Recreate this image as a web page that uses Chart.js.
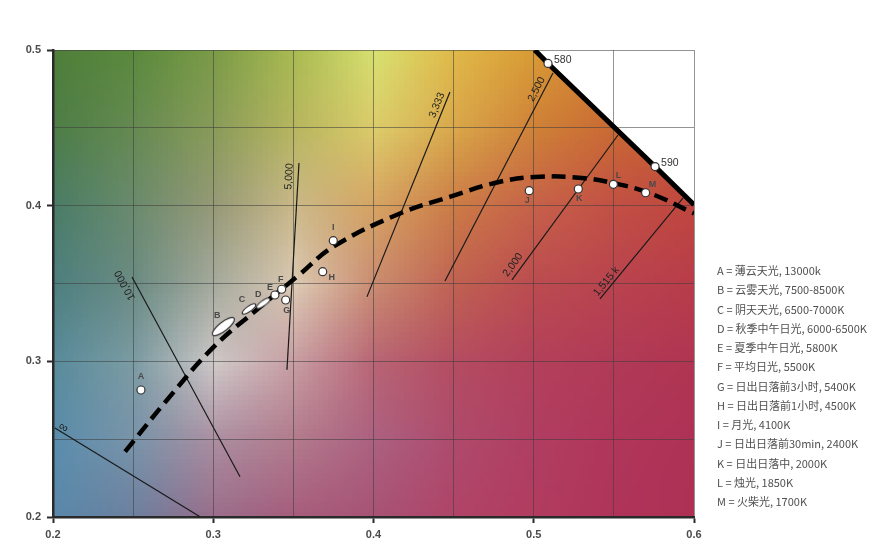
<!DOCTYPE html>
<html>
<head>
<meta charset="utf-8">
<script src="https://cdn.jsdelivr.net/npm/chart.js@4.4.0/dist/chart.umd.min.js"></script>
<style>
  html, body { margin: 0; padding: 0; background: #fff; }
  canvas { display: block; }
</style>
</head>
<body>
<canvas id="cie-chart" width="882" height="544"></canvas>
<script>
// light sources (x, y chromaticity)
const sourceNames = ['A', 'B', 'C', 'D', 'E', 'F', 'G', 'H', 'I', 'J', 'K', 'L', 'M'];
const sourceX = [0.2549, 0.3063, 0.3223, 0.3312, 0.3385, 0.3427, 0.3452, 0.3683, 0.3749, 0.4972, 0.5278, 0.5497, 0.5698];
const sourceY = [0.2816, 0.3223, 0.3337, 0.3373, 0.3426, 0.3463, 0.3394, 0.3576, 0.3775, 0.4096, 0.4107, 0.4137, 0.4083];
const sourceDesc = [
    '薄云天光, 13000k',
    '云雾天光, 7500-8500K',
    '阴天天光, 6500-7000K',
    '秋季中午日光, 6000-6500K',
    '夏季中午日光, 5800K',
    '平均日光, 5500K',
    '日出日落前3小时, 5400K',
    '日出日落前1小时, 4500K',
    '月光, 4100K',
    '日出日落前30min, 2400K',
    '日出日落中, 2000K',
    '烛光, 1850K',
    '火柴光, 1700K'
];

// planckian locus (dashed)
const planckX = [0.245, 0.271, 0.300, 0.327, 0.353, 0.375, 0.4165, 0.448, 0.479, 0.504, 0.530, 0.550, 0.5725, 0.600];
const planckY = [0.242, 0.275, 0.309, 0.333, 0.355, 0.3737, 0.395, 0.4058, 0.4154, 0.4186, 0.4178, 0.4144, 0.408, 0.395];

// spectral locus edge and wavelength marks
const locusX = [0.5006, 0.5089, 0.5757, 0.6];
const locusY = [0.5, 0.4914, 0.4251, 0.4006];
const waveLabels = ['580', '590'];
const waveX = [0.5089, 0.5757];
const waveY = [0.4914, 0.4251];

// isotherms: upper end (x1, y1) and lower end (x2, y2)
const isoLabels = ['∞', '10,000', '5,000', '3,333', '2,500', '2,000', '1,515 k'];
const isoX1 = [0.2012, 0.2493, 0.3535, 0.4477, 0.5120, 0.5526, 0.5931];
const isoY1 = [0.2572, 0.3542, 0.4274, 0.4730, 0.4852, 0.4454, 0.4049];
const isoX2 = [0.2920, 0.3167, 0.3460, 0.3959, 0.4446, 0.4864, 0.5413];
const isoY2 = [0.2000, 0.2258, 0.2945, 0.3414, 0.3516, 0.3523, 0.3401];

// label placement along / beside each isotherm (px from the upper end)
const isoLabelAlong = [-7, -4, -14, -17, -22, -167, -113];
const isoLabelSide = [-5, 10, 9, 7, 7, 8, 6];

// letter label offsets (px) next to each marker
const letterOffset = {
    A: [0, -13], B: [-6, -11], C: [-7, -9], D: [-5, -9], E: [-5, -8], F: [-1, -10],
    G: [1, 11], H: [9, 6], I: [0, -13], J: [-2, 10], K: [1, 10], L: [5, -9], M: [7, -8]
};

// colour field sampled on the 0.05 grid, top row y=0.5 .. bottom row y=0.2, x=0.2 .. 0.6
const bgColors = [
    ['#4f7f3a', '#5b8a3e', '#7c9c48', '#aabb52', '#d8e070', '#e0b848', '#d89a35', '#d27e32', '#cc6a32'],
    ['#4e7e48', '#668a52', '#8a9c5a', '#b8b660', '#dccb6a', '#d9a64a', '#cf8038', '#c96834', '#c65a34'],
    ['#4b7d68', '#6b8b6e', '#979a78', '#cbb98a', '#d6a262', '#cb7a46', '#c6604a', '#c24f45', '#bf463f'],
    ['#4f8080', '#6c8c84', '#a7ab9e', '#dcc9b4', '#c98a70', '#c06052', '#bb4b50', '#b9434f', '#b83c4a'],
    ['#5a8c9c', '#7d9ca4', '#cfc8c8', '#c79ca2', '#b86474', '#b44c62', '#b3405b', '#b13a57', '#b03552'],
    ['#5b8dac', '#7a94aa', '#ab8da0', '#b27a8c', '#ac6080', '#af4a6c', '#b03e62', '#b0365a', '#ae3256'],
    ['#5a88aa', '#6d7f9e', '#9a6c8a', '#a65c7c', '#a85274', '#b04468', '#b23c60', '#b0345a', '#ae3055']
];

function ellipseImg(rx, ry, deg) {
    const c = document.createElement('canvas');
    c.width = c.height = Math.ceil(rx * 2 + 6);
    const g = c.getContext('2d');
    g.beginPath();
    g.ellipse(c.width / 2, c.height / 2, rx, ry, deg * Math.PI / 180, 0, Math.PI * 2);
    g.fillStyle = '#fff';
    g.fill();
    g.lineWidth = 1.2;
    g.strokeStyle = '#333';
    g.stroke();
    return c;
}
const ellipses = { B: ellipseImg(13.5, 4.5, -38), C: ellipseImg(8, 2.6, -35), D: ellipseImg(8, 2.6, -35) };

const pts = (xs, ys) => xs.map((v, i) => ({ x: v, y: ys[i] }));
const isTenth = v => Math.abs(v * 10 - Math.round(v * 10)) < 1e-6;

const backdrop = {
    id: 'backdrop',
    beforeDraw(chart) {
        const { ctx, chartArea: a, scales: { x, y } } = chart;
        const rows = bgColors.length, cols = bgColors[0].length;
        const off = document.createElement('canvas');
        off.width = cols;
        off.height = rows;
        const o = off.getContext('2d');
        bgColors.forEach((row, j) => row.forEach((c, i) => { o.fillStyle = c; o.fillRect(i, j, 1, 1); }));
        const cw = a.width / (cols - 1), ch = a.height / (rows - 1);
        ctx.save();
        ctx.beginPath();
        ctx.rect(a.left, a.top, a.width, a.height);
        ctx.clip();
        ctx.imageSmoothingEnabled = true;
        ctx.drawImage(off, a.left - cw / 2, a.top - ch / 2, a.width + cw, a.height + ch);
        // outside the spectral locus stays white
        ctx.fillStyle = '#fff';
        ctx.beginPath();
        locusX.forEach((v, i) => ctx.lineTo(x.getPixelForValue(v), y.getPixelForValue(locusY[i])));
        ctx.lineTo(a.right + 2, a.top - 2);
        ctx.closePath();
        ctx.fill();
        ctx.restore();
    }
};

const annotations = {
    id: 'annotations',
    afterDatasetsDraw(chart) {
        const { ctx, scales: { x, y } } = chart;
        ctx.save();
        // isotherm temperatures
        ctx.fillStyle = '#222';
        ctx.textAlign = 'center';
        ctx.textBaseline = 'middle';
        isoLabels.forEach((t, i) => {
            const x1 = x.getPixelForValue(isoX1[i]), y1 = y.getPixelForValue(isoY1[i]);
            const x2 = x.getPixelForValue(isoX2[i]), y2 = y.getPixelForValue(isoY2[i]);
            const len = Math.hypot(x1 - x2, y1 - y2);
            const ux = (x1 - x2) / len, uy = (y1 - y2) / len;
            const lx = uy, ly = -ux;
            const cx = x1 + ux * isoLabelAlong[i] + lx * isoLabelSide[i];
            const cy = y1 + uy * isoLabelAlong[i] + ly * isoLabelSide[i];
            ctx.font = (i === 0 ? '13px' : '10.5px') + ' "Liberation Sans", Arial, sans-serif';
            ctx.save();
            ctx.translate(cx, cy);
            ctx.rotate(Math.atan2(uy, ux));
            ctx.fillText(t, 0, 0);
            ctx.restore();
        });
        // source letters
        ctx.font = 'bold 9px "Liberation Sans", Arial, sans-serif';
        ctx.fillStyle = '#4a4a4a';
        sourceNames.forEach((n, i) => {
            const [dx, dy] = letterOffset[n];
            ctx.fillText(n, x.getPixelForValue(sourceX[i]) + dx, y.getPixelForValue(sourceY[i]) + dy);
        });
        // wavelengths
        ctx.font = '10.5px "Liberation Sans", Arial, sans-serif';
        ctx.fillStyle = '#333';
        ctx.textAlign = 'left';
        waveLabels.forEach((t, i) => {
            ctx.fillText(t, x.getPixelForValue(waveX[i]) + 6, y.getPixelForValue(waveY[i]) - 3);
        });
        ctx.restore();
    },
    afterDraw(chart) {
        const { ctx, chartArea: a } = chart;
        ctx.save();
        ctx.font = '11px "Noto Sans CJK SC", sans-serif';
        ctx.fillStyle = '#505050';
        ctx.textAlign = 'left';
        ctx.textBaseline = 'middle';
        sourceNames.forEach((n, i) => {
            ctx.fillText(n + ' = ' + sourceDesc[i], a.right + 23, 271 + i * 19.25);
        });
        ctx.restore();
    }
};

const isoSets = isoLabels.map((t, i) => ({
    label: t,
    data: pts([isoX1[i], isoX2[i]], [isoY1[i], isoY2[i]]),
    showLine: true,
    borderColor: '#1a1a1a',
    borderWidth: 1.2,
    pointRadius: 0,
    order: 5
}));

const tickFont = { family: '"Liberation Sans", Arial, sans-serif', size: 11, weight: 'bold' };

new Chart(document.getElementById('cie-chart'), {
    type: 'scatter',
    data: {
        datasets: [
            {
                label: 'sources',
                data: pts(sourceX, sourceY),
                pointStyle: c => ellipses[sourceNames[c.dataIndex]] || 'circle',
                pointRadius: 4,
                pointBackgroundColor: '#fff',
                pointBorderColor: '#333',
                pointBorderWidth: 1.2,
                order: 1
            },
            {
                label: 'wavelengths',
                data: pts(waveX, waveY),
                pointRadius: 4,
                pointBackgroundColor: '#fff',
                pointBorderColor: '#333',
                pointBorderWidth: 1.2,
                order: 1
            },
            {
                label: 'planckian',
                data: pts(planckX, planckY),
                showLine: true,
                tension: 0.4,
                borderColor: '#000',
                borderWidth: 4.5,
                borderDash: [14, 7],
                pointRadius: 0,
                order: 2
            },
            {
                label: 'locus',
                data: pts(locusX, locusY),
                showLine: true,
                borderColor: '#000',
                borderWidth: 5,
                pointRadius: 0,
                order: 3
            },
            ...isoSets
        ]
    },
    options: {
        responsive: false,
        animation: false,
        events: [],
        layout: { padding: { top: 50, right: 188, left: 0, bottom: 0 } },
        plugins: { legend: { display: false }, tooltip: { enabled: false } },
        scales: {
            x: {
                type: 'linear',
                min: 0.2,
                max: 0.6,
                afterFit: s => { s.height = 27; },
                border: { color: '#2a2a2a', width: 2.5 },
                grid: {
                    color: 'rgba(60, 60, 60, 0.55)',
                    lineWidth: 1,
                    tickLength: 6,
                    tickColor: c => isTenth(c.tick.value) ? '#2a2a2a' : 'rgba(0,0,0,0)',
                    tickWidth: 2
                },
                ticks: {
                    stepSize: 0.05,
                    padding: 5,
                    maxRotation: 0,
                    autoSkip: false,
                    color: '#4a4a4a',
                    font: tickFont,
                    callback: v => isTenth(v) ? v.toFixed(1) : ''
                }
            },
            y: {
                type: 'linear',
                min: 0.2,
                max: 0.5,
                afterFit: s => { s.width = 53; },
                border: { color: '#2a2a2a', width: 2.5 },
                grid: {
                    color: 'rgba(60, 60, 60, 0.55)',
                    lineWidth: 1,
                    tickLength: 6,
                    tickColor: c => isTenth(c.tick.value) ? '#2a2a2a' : 'rgba(0,0,0,0)',
                    tickWidth: 2
                },
                ticks: {
                    stepSize: 0.05,
                    padding: 6,
                    autoSkip: false,
                    color: '#4a4a4a',
                    font: tickFont,
                    callback: v => isTenth(v) ? v.toFixed(1) : ''
                }
            }
        }
    },
    plugins: [backdrop, annotations]
});
</script>
</body>
</html>
